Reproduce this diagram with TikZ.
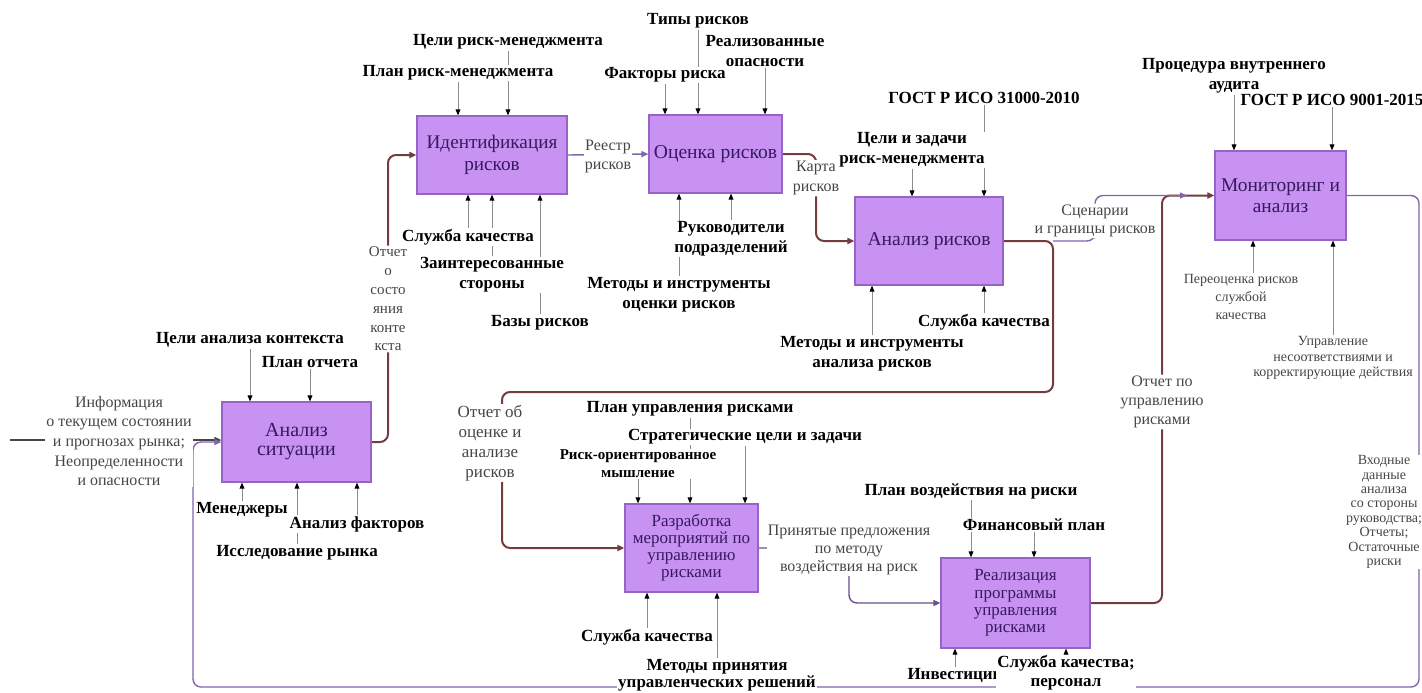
\documentclass[tikz,border=0pt]{standalone}
\usepackage{fontspec}
\setmainfont{Liberation Serif}
\usetikzlibrary{positioning,arrows.meta,backgrounds}

\definecolor{boxfill}{RGB}{199,146,242}
\definecolor{boxline}{RGB}{150,100,200}
\definecolor{boxtext}{RGB}{55,25,95}
\definecolor{flowred}{RGB}{115,60,62}
\definecolor{lilac}{RGB}{130,100,170}
\definecolor{notegray}{RGB}{70,70,70}
\definecolor{ctlgray}{RGB}{140,140,140}

\begin{document}
\begin{tikzpicture}[x=0.5pt,y=-0.5pt,
    box/.style={draw=boxline, fill=boxfill, text=boxtext, align=center, inner sep=1pt, line width=0.6pt},
    lbl/.style={font=\bfseries\fontsize{8.5}{10}\selectfont, align=center, fill=white, inner sep=0.5pt},
    note/.style={font=\fontsize{8}{9.5}\selectfont, text=notegray, align=center, fill=white, inner sep=0.5pt},
    ctl/.style={-{Triangle[length=3pt,width=2.4pt,color=black]}, draw=ctlgray, line width=0.4pt},
    flow/.style={-{Triangle[length=3.5pt,width=3pt]}, draw=flowred, line width=1pt, rounded corners=4pt},
    link/.style={-{Triangle[length=3.5pt,width=3pt]}, draw=lilac, line width=0.7pt, rounded corners=4pt},
    inp/.style={link, draw=notegray}
]
    \useasboundingbox (0,0) rectangle (1422,692);
    \clip (0,0) rectangle (1422,692);

    % blocks
    \node[box, minimum width=74.5pt, minimum height=40pt, font=\fontsize{10}{9.5}\selectfont] (sit) at (296.5,442) {Анализ\\ситуации};
    \node[box, minimum width=75pt, minimum height=39pt, font=\fontsize{9.6}{11}\selectfont] (ident) at (492,155) {Идентификация\\рисков};
    \node[box, minimum width=66.5pt, minimum height=39pt, font=\fontsize{9.8}{11}\selectfont] (ocen) at (715.5,154) {Оценка рисков};
    \node[box, minimum width=74pt, minimum height=44pt, font=\fontsize{9.8}{11}\selectfont] (anal) at (929,241) {Анализ рисков};
    \node[box, minimum width=65.5pt, minimum height=44.5pt, font=\fontsize{9.7}{10.5}\selectfont] (monit) at (1280.5,195.5) {Мониторинг и\\анализ};
    \node[box, minimum width=66.5pt, minimum height=44pt, font=\fontsize{8.5}{8.5}\selectfont] (razr) at (691.5,548) {Разработка\\мероприятий по\\управлению\\рисками};
    \node[box, minimum width=74.5pt, minimum height=45pt, font=\fontsize{8.5}{8.6}\selectfont] (real) at (1015.5,603) {Реализация\\программы\\управления\\рисками};

    % labels of block 1
    \node[lbl] (sitc1) at (250,340) {Цели анализа контекста};
    \node[lbl] (sitc2) at (310,362) {План отчета};
    \node[lbl] (sitm1) at (242,510) {Менеджеры};
    \node[lbl] (sitm2) at (357,524) {Анализ факторов};
    \node[lbl] (sitm3) at (297,553) {Исследование рынка};
    \node[note, font=\fontsize{8}{9.8}\selectfont] (info) at (119,441) {Информация\\о текущем состоянии\\и прогнозах рынка;\\Неопределенности\\и опасности};
    \coordinate (in0) at (10,440);

    % labels of block 2
    \node[lbl] (idc1) at (458,73) {План риск-менеджмента};
    \node[lbl] (idc2) at (508,42) {Цели риск-менеджмента};
    \node[lbl] (idm1) at (468,237) {Служба качества};
    \node[lbl] (idm2) at (492,275) {Заинтересованные\\стороны};
    \node[lbl] (idm3) at (540,323) {Базы рисков};
    \node[note, font=\fontsize{7.5}{9.4}\selectfont] (otch) at (388,299) {Отчет\\о\\состо\\яния\\конте\\кста};

    % labels of block 3
    \node[note] (reestr) at (608,156) {Реестр\\рисков};
    \node[lbl] (occ1) at (665,75) {Факторы риска};
    \node[lbl] (occ2) at (698,21) {Типы рисков};
    \node[lbl] (occ3) at (765,51) {Реализованные\\опасности};
    \node[lbl] (ocm1) at (679,295) {Методы и инструменты\\оценки рисков};
    \node[lbl] (ocm2) at (731,239) {Руководители\\подразделений};
    \node[note, font=\fontsize{8}{10}\selectfont] (karta) at (816,178) {Карта\\рисков};

    % labels of block 4
    \node[lbl] (anc1) at (912,150) {Цели и задачи\\риск-менеджмента};
    \node[lbl] (anc2) at (984,98) {ГОСТ Р ИСО 31000-2010};
    \node[lbl] (anm1) at (872,354) {Методы и инструменты\\анализа рисков};
    \node[lbl] (anm2) at (984,322) {Служба качества};
    \node[note, font=\fontsize{8}{9}\selectfont] (scen) at (1095,221) {Сценарии\\и границы рисков};
    \node[note, font=\fontsize{8.5}{10}\selectfont] (otob) at (490,443) {Отчет об\\оценке и\\анализе\\рисков};
    \coordinate (r1) at (1053,392);
    \coordinate (r2) at (502,392);

    % labels of block 5
    \node[lbl] (moc1) at (1234,76) {Процедура внутреннего\\аудита};
    \node[lbl] (moc2) at (1332,100) {ГОСТ Р ИСО 9001-2015};
    \node[note, font=\fontsize{7}{9}\selectfont] (mom1) at (1241,297) {Переоценка рисков\\службой\\качества};
    \node[note, font=\fontsize{7}{7.6}\selectfont] (mom2) at (1333,358) {Управление\\несоответствиями и\\корректирующие действия};
    \node[note, font=\fontsize{7}{7.2}\selectfont] (vhod) at (1384,512) {Входные\\данные\\анализа\\со стороны\\руководства;\\Отчеты;\\Остаточные\\риски};
    \coordinate (m1) at (1187,195.5);
    \coordinate (fb1) at (1419,687);
    \coordinate (fb2) at (193,687);

    % labels of block 6
    \node[lbl] (rzc1) at (690,409) {План управления рисками};
    \node[lbl] (rzc2) at (745,437) {Стратегические цели и задачи};
    \node[lbl, font=\bfseries\fontsize{7.5}{9}\selectfont] (rzc3) at (638,464) {Риск-ориентированное\\мышление};
    \node[lbl] (rzm1) at (647,637) {Служба качества};
    \node[lbl, font=\bfseries\fontsize{8.5}{8.5}\selectfont] (rzm2) at (717,675) {Методы принятия\\управленческих решений};
    \node[note, font=\fontsize{8}{8.8}\selectfont] (prin) at (849,550) {Принятые предложения\\по методу\\воздействия на риск};

    % labels of block 7
    \node[lbl] (rlc1) at (971,491) {План воздействия на риски};
    \node[lbl] (rlc2) at (1034,525) {Финансовый план};
    \node[lbl] (rlm1) at (955,675) {Инвестиции};
    \node[lbl, font=\bfseries\fontsize{8.5}{9.5}\selectfont] (rlm2) at (1066,673) {Служба качества;\\персонал};
    \node[note] (otchu) at (1162,402) {Отчет по\\управлению\\рисками};

    \begin{scope}[on background layer]
        \draw[ctl] (sitc1) -- (sitc1 |- sit.north);
        \draw[ctl] (sitc2) -- (sitc2 |- sit.north);
        \draw[ctl] (sitm1) -- (sitm1 |- sit.south);
        \draw[ctl] (sitm2) -- (sitm2 |- sit.south);
        \draw[ctl] (sitm3) -- (sitm3 |- sit.south);

        \draw[ctl] (idc1) -- (idc1 |- ident.north);
        \draw[ctl] (idc2) -- (idc2 |- ident.north);
        \draw[ctl] (idm1) -- (idm1 |- ident.south);
        \draw[ctl] (idm2) -- (idm2 |- ident.south);
        \draw[ctl] (idm3) -- (idm3 |- ident.south);

        \draw[ctl] (occ1) -- (occ1 |- ocen.north);
        \draw[ctl] (occ2) -- (occ2 |- ocen.north);
        \draw[ctl] (occ3) -- (occ3 |- ocen.north);
        \draw[ctl] (ocm1) -- (ocm1 |- ocen.south);
        \draw[ctl] (ocm2) -- (ocm2 |- ocen.south);

        \draw[ctl] (anc1) -- (anc1 |- anal.north);
        \draw[ctl] (anc2) -- (anc2 |- anal.north);
        \draw[ctl] (anm1) -- (anm1 |- anal.south);
        \draw[ctl] (anm2) -- (anm2 |- anal.south);

        \draw[ctl] (moc1) -- (moc1 |- monit.north);
        \draw[ctl] (moc2) -- (moc2 |- monit.north);
        \draw[ctl] ([xshift=6pt]mom1.north) -- ([xshift=6pt]mom1.north |- monit.south);
        \draw[ctl] (mom2) -- (mom2 |- monit.south);

        \draw[ctl] (rzc1) -- (rzc1 |- razr.north);
        \draw[ctl] (rzc2) -- (rzc2 |- razr.north);
        \draw[ctl] (rzc3) -- (rzc3 |- razr.north);
        \draw[ctl] (rzm1) -- (rzm1 |- razr.south);
        \draw[ctl] (rzm2) -- (rzm2 |- razr.south);

        \draw[ctl] (rlc1) -- (rlc1 |- real.north);
        \draw[ctl] (rlc2) -- (rlc2 |- real.north);
        \draw[ctl] (rlm1) -- (rlm1 |- real.south);
        \draw[ctl] (rlm2) -- (rlm2 |- real.south);

        \draw[inp] (in0) -- (in0 -| sit.west);
        \draw[link] (monit.east) -| (fb1) -- (fb2) |- (sit.west);
        \draw[flow] (sit.east) -| (otch) |- (ident.west);
        \draw[link] (ident.east) -- (ocen.west);
        \draw[flow] (ocen.east) -| (karta) |- (anal.west);
        \draw[flow] (anal.east) -| (r1) -- (r2) |- (razr.west);
        \draw[link, draw=lilac!80!black] (razr.east) -| (prin) |- (real.west);
        \draw[flow] (real.east) -| (otchu) |- (monit.west);
        \draw[link] (r1 |- anal.east) -| (scen) |- (m1);
    \end{scope}
\end{tikzpicture}
\end{document}
